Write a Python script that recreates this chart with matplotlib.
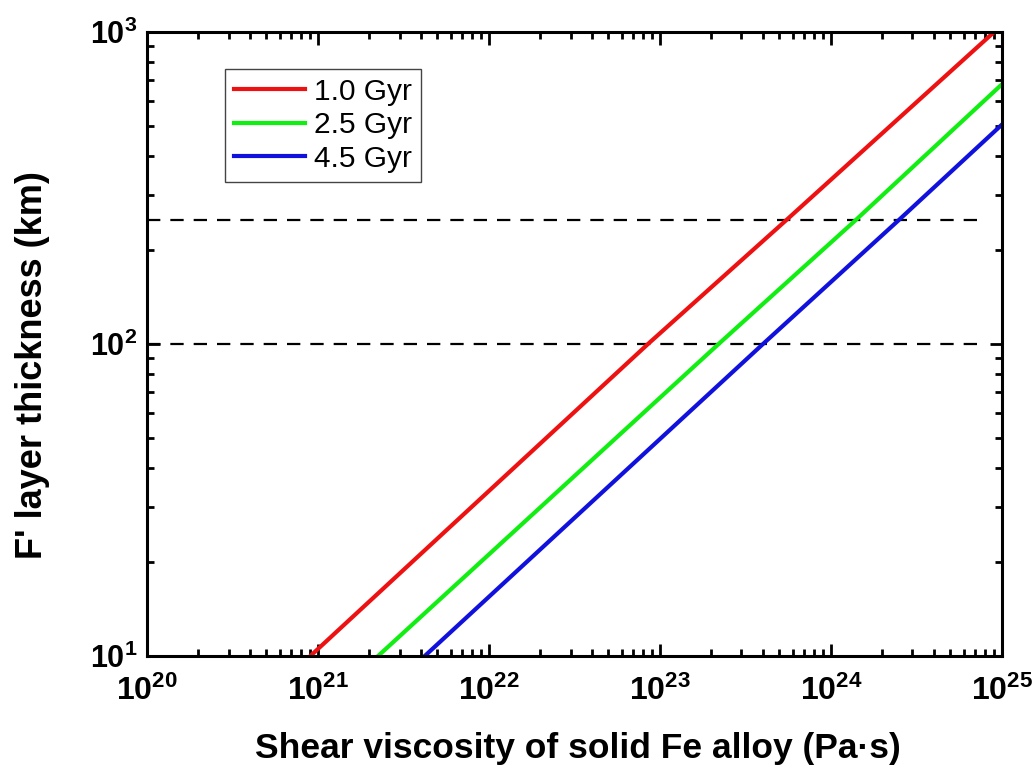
import numpy as np
import matplotlib
matplotlib.use('Agg')
import matplotlib.pyplot as plt

plt.rc('font', family='Liberation Sans', weight='bold')
plt.rc('mathtext', default='regular')
plt.rc('xtick', direction='in', top=True, bottom=True)
plt.rc('ytick', direction='in', left=True, right=True)

# data (viscosity in Pa s, thickness in km)
red_x = [9.0e20, 8.5e22, 5.5e23, 9.0e24]
red_y = [10, 100, 250, 1000]
green_x = [2.24e21, 2.2e23, 1.4e24, 1.0e25]
green_y = [10, 100, 250, 680]
blue_x = [4.2e21, 4.0e23, 2.5e24, 1.0e25]
blue_y = [10, 100, 250, 505]
labels = ['1.0 Gyr', '2.5 Gyr', '4.5 Gyr']

dash_y = [100, 250]
dash_x = [1e20, 7.5e24]

xticks = [1e20, 1e21, 1e22, 1e23, 1e24, 1e25]
xticklabels = [r'$\mathdefault{10^{%d}}$' % p for p in range(20, 26)]
yticks = [1e1, 1e2, 1e3]
yticklabels = [r'$\mathdefault{10^{%d}}$' % p for p in range(1, 4)]

fig = plt.figure(figsize=(10.35, 7.72), dpi=100)
ax = fig.add_axes([0.142, 0.150, 0.826, 0.8085])

for yy in dash_y:
    ax.plot(dash_x, [yy, yy], color='k', lw=1.6, dashes=(6, 4.5))

ax.plot(red_x, red_y, color='#ee1111', lw=3, label=labels[0])
ax.plot(green_x, green_y, color='#11ee11', lw=3, label=labels[1])
ax.plot(blue_x, blue_y, color='#1111dd', lw=3, label=labels[2])

ax.set_xscale('log')
ax.set_yscale('log')
ax.set_xlim(1e20, 1e25)
ax.set_ylim(10, 1000)

ax.set_xticks(xticks, labels=xticklabels)
ax.set_yticks(yticks, labels=yticklabels)
ax.tick_params(which='major', length=9, width=2, labelsize=22)
ax.tick_params(which='minor', length=5, width=2)
ax.tick_params(axis='x', which='major', pad=14, labelsize=23)
ax.tick_params(axis='y', which='major', pad=7)
for s in ax.spines.values():
    s.set_linewidth(2.2)

ax.set_xlabel('Shear viscosity of solid Fe alloy (Pa\u00b7s)', fontsize=25.5,
              fontweight='bold')
ax.xaxis.set_label_coords(0.5035, -0.121)
ax.set_ylabel("F' layer thickness (km)", fontsize=26, fontweight='bold')
ax.yaxis.set_label_coords(-0.113, 0.466)

leg = ax.legend(loc='upper left', bbox_to_anchor=(0.091, 0.941),
                borderaxespad=0, fancybox=False, framealpha=1,
                edgecolor='#444444', handlelength=2.4, handletextpad=0.28,
                labelspacing=0.18, borderpad=0.3,
                prop={'family': 'Liberation Sans', 'weight': 'normal',
                      'size': 21.5})
leg.get_frame().set_linewidth(1)

fig.savefig('out.png', dpi=100)
plt.close(fig)
